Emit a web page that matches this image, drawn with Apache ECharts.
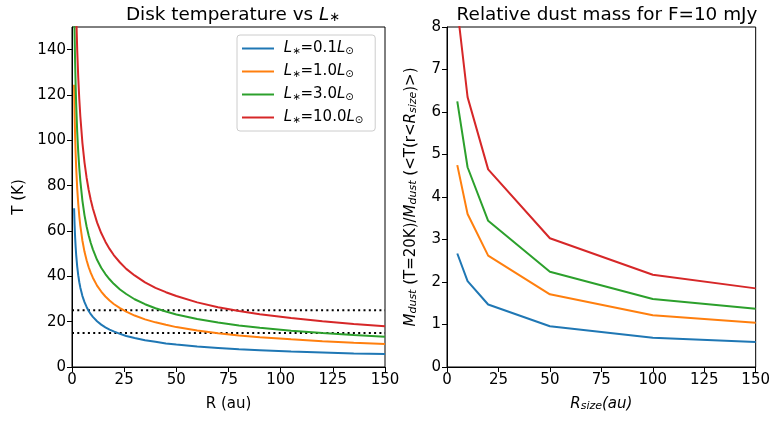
<!DOCTYPE html>
<html>
<head>
<meta charset="utf-8">
<script src="https://cdn.jsdelivr.net/npm/echarts@6/dist/echarts.min.js"></script>
<style>
  html, body { margin: 0; padding: 0; background: #fff; }
  #main { width: 773px; height: 421px; }
</style>
</head>
<body>
<div id="main"></div>
<script>
// left panel: radius samples (au) and temperatures (K)
const radius = [1, 1.25, 1.5, 1.75, 2, 2.5, 3, 3.5, 4, 5, 6, 7, 8, 9, 10, 12, 14, 16, 18, 20, 23, 26, 30, 35, 40, 45, 50, 60, 70, 80, 90, 105, 120, 135, 150]
const tempL01 = [70, 62.6, 57.2, 52.9, 49.5, 44.3, 40.4, 37.4, 35.0, 31.3, 28.6, 26.5, 24.7, 23.3, 22.1, 20.2, 18.7, 17.5, 16.5, 15.7, 14.6, 13.7, 12.8, 11.8, 11.1, 10.4, 9.9, 9.0, 8.4, 7.8, 7.4, 6.8, 6.4, 6.0, 5.7]
const tempL1 = [124.5, 111.4, 101.7, 94.1, 88.0, 78.7, 71.9, 66.5, 62.3, 55.7, 50.8, 47.1, 44.0, 41.5, 39.4, 35.9, 33.3, 31.1, 29.3, 27.8, 26.0, 24.4, 22.7, 21.0, 19.7, 18.6, 17.6, 16.1, 14.9, 13.9, 13.1, 12.2, 11.4, 10.7, 10.2]
const tempL3 = [164, 146.7, 133.9, 124.0, 116.0, 103.7, 94.7, 87.7, 82.0, 73.3, 66.9, 62.0, 58.0, 54.7, 51.9, 47.3, 43.8, 41.0, 38.7, 36.7, 34.2, 32.2, 29.9, 27.7, 25.9, 24.5, 23.2, 21.2, 19.6, 18.3, 17.3, 16.0, 15.0, 14.1, 13.4]
const tempL10 = [221, 197.7, 180.4, 167.1, 156.3, 139.8, 127.6, 118.1, 110.5, 98.8, 90.2, 83.5, 78.1, 73.7, 69.9, 63.8, 59.1, 55.3, 52.1, 49.4, 46.1, 43.3, 40.4, 37.3, 34.9, 33.0, 31.3, 28.5, 26.4, 24.7, 23.3, 21.6, 20.2, 19.0, 18.0]
const refTemps = [25, 15]

// right panel: relative dust mass vs R_size
const rsize = [5, 10, 20, 50, 100, 150]
const massL01 = [2.67, 2.02, 1.47, 0.96, 0.69, 0.59]
const massL1 = [4.75, 3.60, 2.62, 1.71, 1.22, 1.04]
const massL3 = [6.25, 4.70, 3.44, 2.24, 1.60, 1.37]
const massL10 = [8.44, 6.35, 4.65, 3.03, 2.17, 1.85]

const names = ['L01', 'L1', 'L3', 'L10']
const lumLabels = ['0.1', '1.0', '3.0', '10.0']
const colors = ['#1f77b4', '#ff7f0e', '#2ca02c', '#d62728']
const temps = [tempL01, tempL1, tempL3, tempL10]
const masses = [massL01, massL1, massL3, massL10]

const font = 'DejaVu Sans'
const fs = 15
const rich = {
  i: { fontFamily: font, fontStyle: 'italic', fontSize: fs, color: '#000' },
  s: { fontFamily: font, fontSize: 10, color: '#000', verticalAlign: 'bottom' },
  si: { fontFamily: font, fontStyle: 'italic', fontSize: 11, color: '#000', verticalAlign: 'bottom' },
  n: { fontFamily: font, fontSize: fs, color: '#000' }
}

const zip = (xs, ys) => xs.map((x, k) => [x, ys[k]])

const axisCommon = {
  axisLine: { onZero: false, lineStyle: { color: '#000', width: 1 } },
  axisTick: { show: true, inside: false, length: 5, lineStyle: { color: '#000' } },
  axisLabel: { color: '#000', fontFamily: font, fontSize: fs, margin: 6 },
  splitLine: { show: false }
}

const series = []
names.forEach((n, k) => {
  series.push({
    name: n, type: 'line', xAxisIndex: 0, yAxisIndex: 0,
    data: zip(radius, temps[k]), showSymbol: false, symbol: 'none',
    lineStyle: { color: colors[k], width: 2 }, itemStyle: { color: colors[k] },
    clip: true, z: 3
  })
})
refTemps.forEach(t => {
  series.push({
    type: 'line', xAxisIndex: 0, yAxisIndex: 0,
    data: [[0, t], [150, t]], symbol: 'none',
    lineStyle: { color: '#000', width: 2, type: [2, 3.3] }, z: 2
  })
})
names.forEach((n, k) => {
  series.push({
    type: 'line', xAxisIndex: 1, yAxisIndex: 1,
    data: zip(rsize, masses[k]), symbol: 'none',
    lineStyle: { color: colors[k], width: 2 }, clip: true
  })
})

const chart = echarts.init(document.getElementById('main'), null, { renderer: 'canvas' })
chart.setOption({
  backgroundColor: '#fff',
  animation: false,
  title: [
    {
      text: 'Disk temperature vs {t|L}{s|∗}', left: 228, top: 1, textAlign: 'center',
      textStyle: {
        fontFamily: font, fontSize: 18.4, fontWeight: 'normal', color: '#000',
        rich: { t: { fontFamily: font, fontSize: 18.4, fontStyle: 'italic', color: '#000' },
                s: { fontFamily: font, fontSize: 13, color: '#000', verticalAlign: 'bottom' } }
      }
    },
    {
      text: 'Relative dust mass for F=10 mJy', left: 602, top: 1, textAlign: 'center',
      textStyle: { fontFamily: font, fontSize: 18.4, fontWeight: 'normal', color: '#000' }
    }
  ],
  legend: {
    data: names, left: 237, top: 35, orient: 'vertical',
    itemWidth: 32, itemHeight: 2, icon: 'rect', itemGap: 8,
    padding: [6, 12, 6, 5],
    backgroundColor: 'rgba(255,255,255,0.8)', borderColor: '#ccc', borderWidth: 1, borderRadius: 3,
    formatter: n => {
      const k = names.indexOf(n)
      return '{n| }{i|L}{s|∗}{n|=' + lumLabels[k] + '}{i|L}{s|⊙}'
    },
    textStyle: { fontFamily: font, fontSize: fs, color: '#000', rich: rich }
  },
  grid: [
    { left: 72, top: 27, width: 313, height: 340, show: true, borderColor: '#000', borderWidth: 1, backgroundColor: 'transparent' },
    { left: 447, top: 27, width: 311, height: 340, show: true, borderColor: '#000', borderWidth: 1, backgroundColor: 'transparent' }
  ],
  xAxis: [
    Object.assign({}, axisCommon, {
      type: 'value', gridIndex: 0, min: 0, max: 150, interval: 25,
      name: 'R (au)', nameLocation: 'middle', nameGap: 30,
      nameTextStyle: { fontFamily: font, fontSize: fs, color: '#000' }
    }),
    Object.assign({}, axisCommon, {
      type: 'value', gridIndex: 1, min: 0, max: 150, interval: 25,
      name: '{i|R}{si|size}{i|(au)}', nameLocation: 'middle', nameGap: 30,
      nameTextStyle: { fontFamily: font, fontSize: fs, color: '#000', rich: rich }
    })
  ],
  yAxis: [
    Object.assign({}, axisCommon, {
      type: 'value', gridIndex: 0, min: 0, max: 150, interval: 20,
      axisLabel: Object.assign({}, axisCommon.axisLabel, { showMaxLabel: false }),
      name: 'T (K)', nameLocation: 'middle', nameGap: 45,
      nameTextStyle: { fontFamily: font, fontSize: fs, color: '#000' }
    }),
    Object.assign({}, axisCommon, {
      type: 'value', gridIndex: 1, min: 0, max: 8, interval: 1,
      name: '{i|M}{si|dust}{n| (T=20K)/}{i|M}{si|dust}{n| (<T(r<}{i|R}{si|size}{n|)>)}',
      nameLocation: 'middle', nameGap: 28,
      nameTextStyle: { fontFamily: font, fontSize: fs, color: '#000', rich: rich }
    })
  ],
  series: series
})
</script>
</body>
</html>
